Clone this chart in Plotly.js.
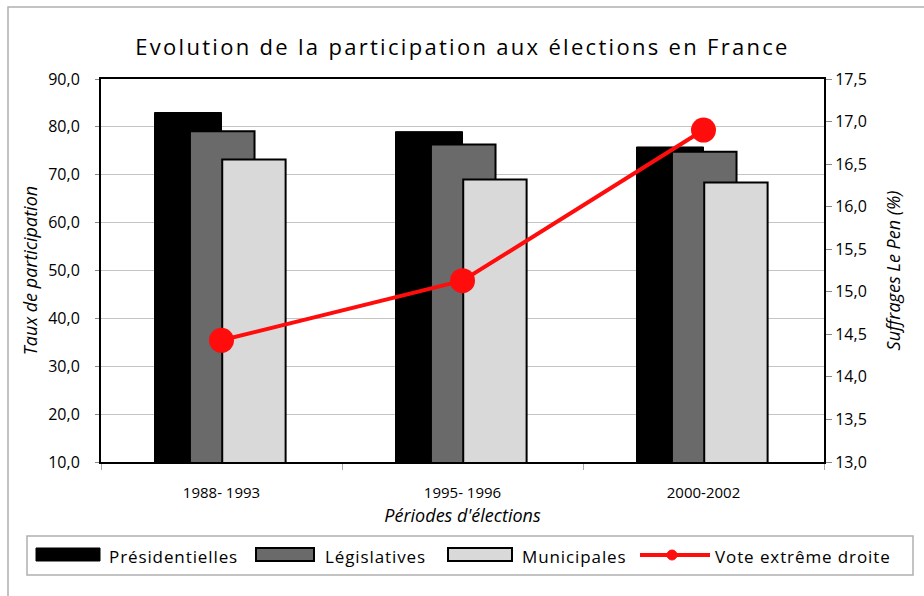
<!DOCTYPE html>
<html>
<head>
<meta charset="utf-8">
<script src="https://cdn.plot.ly/plotly-3.0.1.min.js"></script>
<style>
  body { margin: 0; padding: 0; background: #fff; }
  #chart { width: 924px; height: 596px; }
  .gtitle { letter-spacing: 2.3px; }
  .annotation-text { letter-spacing: 0.9px; }
</style>
</head>
<body>
<div id="chart"></div>
<script>
// ---- data ----
const categories = ['1988- 1993', '1995- 1996', '2000-2002'];
const presidentielles = [83.0, 79.0, 75.8];
const legislatives = [79.1, 76.3, 74.8];
const municipales = [73.2, 69.0, 68.4];
const voteExtremeDroite = [14.43, 15.13, 16.90];
const seriesNames = ['Présidentielles', 'Législatives', 'Municipales', 'Vote extrême droite'];
const leftTicks = [10, 20, 30, 40, 50, 60, 70, 80, 90];
const rightTicks = [13, 13.5, 14, 14.5, 15, 15.5, 16, 16.5, 17, 17.5];

// ---- layout helpers ----
const W = 924, H = 596;
const M = { l: 101, r: 100, t: 79, b: 134 };
const PW = W - M.l - M.r, PH = H - M.t - M.b;
const xp = px => (px - M.l) / PW;
const yp = py => (H - M.b - py) / PH;
const FONT = 'Open Sans, Noto Sans, sans-serif';

const traces = [
  {
    type: 'bar', name: seriesNames[0], x: categories, y: presidentielles,
    offset: -0.278, width: 0.278,
    marker: { color: '#000000', line: { color: '#000000', width: 1 } },
    showlegend: false, hoverinfo: 'y'
  },
  {
    type: 'bar', name: seriesNames[1], x: categories, y: legislatives,
    offset: -0.131, width: 0.268,
    marker: { color: '#6a6a6a', line: { color: '#000000', width: 2 } },
    showlegend: false, hoverinfo: 'y'
  },
  {
    type: 'bar', name: seriesNames[2], x: categories, y: municipales,
    offset: 0.003, width: 0.263,
    marker: { color: '#d9d9d9', line: { color: '#000000', width: 2 } },
    showlegend: false, hoverinfo: 'y'
  },
  {
    type: 'scatter', mode: 'lines+markers', name: seriesNames[3],
    x: categories, y: voteExtremeDroite, yaxis: 'y2',
    line: { color: '#ff0d0d', width: 4 },
    marker: { color: '#ff0d0d', size: 25 },
    cliponaxis: false, showlegend: false
  }
];

// custom legend
const legendItems = [
  { x0: 36, x1: 100, text: 107, fill: '#000000', lw: 0, kind: 'bar' },
  { x0: 256, x1: 314, text: 323, fill: '#6a6a6a', lw: 2, kind: 'bar' },
  { x0: 448, x1: 512, text: 520, fill: '#d9d9d9', lw: 2, kind: 'bar' },
  { x0: 640, x1: 710, text: 713, fill: '#ff0d0d', lw: 4, kind: 'line' }
];
const shapes = [
  { type: 'rect', xref: 'paper', yref: 'paper', layer: 'below',
    x0: xp(8), x1: xp(940), y0: yp(610), y1: yp(7),
    line: { color: '#b0b0b0', width: 1.5 }, fillcolor: 'rgba(0,0,0,0)' },
  { type: 'rect', xref: 'paper', yref: 'paper',
    x0: xp(27), x1: xp(913), y0: yp(575), y1: yp(536),
    line: { color: '#b0b0b0', width: 1.5 }, fillcolor: 'rgba(0,0,0,0)' }
];
const annotations = [];
legendItems.forEach((it, i) => {
  if (it.kind === 'bar') {
    shapes.push({ type: 'rect', xref: 'paper', yref: 'paper',
      x0: xp(it.x0), x1: xp(it.x1), y0: yp(561), y1: yp(548),
      fillcolor: it.fill,
      line: { color: '#000000', width: it.lw === 0 ? 1 : it.lw } });
  } else {
    shapes.push({ type: 'line', xref: 'paper', yref: 'paper',
      x0: xp(it.x0), x1: xp(it.x1), y0: yp(555), y1: yp(555),
      line: { color: it.fill, width: it.lw } });
    shapes.push({ type: 'circle', xref: 'paper', yref: 'paper',
      x0: xp(667), x1: xp(677), y0: yp(560), y1: yp(550),
      fillcolor: it.fill, line: { color: it.fill, width: 1 } });
  }
  annotations.push({ xref: 'paper', yref: 'paper', x: xp(it.text), y: yp(556),
    xanchor: 'left', yanchor: 'middle', showarrow: false,
    text: seriesNames[i], font: { family: FONT, size: 17, color: '#000' } });
});

const layout = {
  width: W, height: H,
  margin: { l: M.l, r: M.r, t: M.t, b: M.b, pad: 0 },
  paper_bgcolor: '#ffffff', plot_bgcolor: '#ffffff',
  separators: ', ',
  font: { family: FONT, color: '#000', size: 15 },
  title: {
    text: 'Evolution de la participation aux élections en France',
    font: { family: FONT, size: 22, color: '#000' },
    x: 0.5, xref: 'paper', xanchor: 'center', y: 1 - 47 / H, yanchor: 'middle'
  },
  barmode: 'overlay',
  showlegend: false,
  xaxis: {
    type: 'category', showline: true, linecolor: '#000', linewidth: 2, mirror: true,
    ticks: 'outside', tickson: 'boundaries', ticklen: 6, tickcolor: '#aaaaaa', tickwidth: 1,
    ticklabelstandoff: 16,
    tickfont: { family: FONT, size: 15, color: '#000' },
    showgrid: false, zeroline: false, automargin: false,
    title: { text: "Périodes d'élections", standoff: 8,
      font: { family: FONT, size: 18, color: '#000', style: 'italic' } }
  },
  yaxis: {
    range: [10, 90], tickvals: leftTicks, tickformat: '.1f',
    showline: true, linecolor: '#000', linewidth: 2,
    ticks: 'outside', ticklen: 4, tickcolor: '#888',
    ticklabelstandoff: 12,
    showgrid: true, gridcolor: '#c4c4c4', gridwidth: 1, zeroline: false,
    tickfont: { family: FONT, size: 16, color: '#000' },
    automargin: false,
    title: { text: 'Taux de participation', standoff: 6,
      font: { family: FONT, size: 18, color: '#000', style: 'italic' } }
  },
  yaxis2: {
    range: [13, 17.5], tickvals: rightTicks, tickformat: '.1f',
    overlaying: 'y', side: 'right',
    showline: true, linecolor: '#000', linewidth: 2,
    ticks: 'outside', ticklen: 6, tickcolor: '#888',
    showgrid: false, zeroline: false,
    tickfont: { family: FONT, size: 16, color: '#000' },
    automargin: false,
    title: { text: 'Suffrages Le Pen (%)', standoff: 22,
      font: { family: FONT, size: 18, color: '#000', style: 'italic' } }
  },
  shapes: shapes,
  annotations: annotations
};

Plotly.newPlot('chart', traces, layout, { displayModeBar: false, staticPlot: true });
</script>
</body>
</html>
